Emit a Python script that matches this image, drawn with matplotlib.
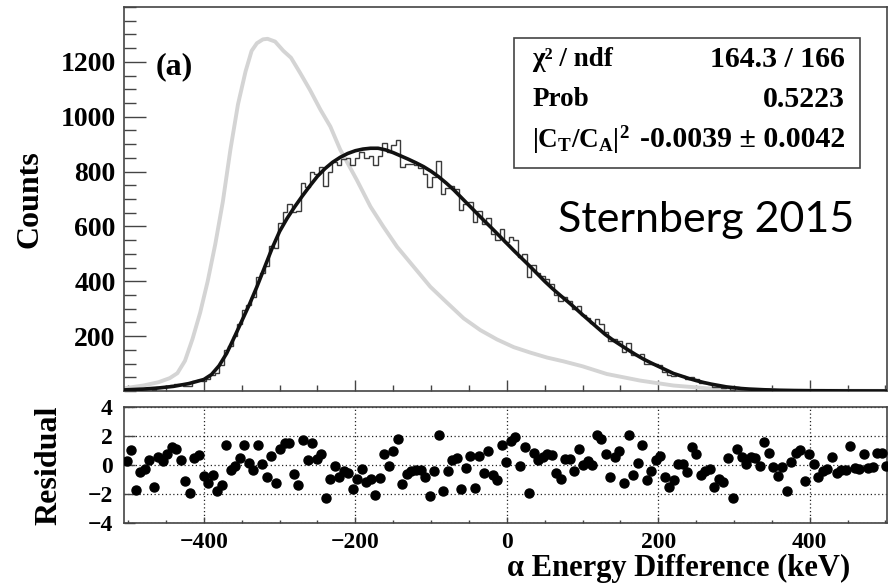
import numpy as np
import matplotlib
matplotlib.use("Agg")
import matplotlib.pyplot as plt
from matplotlib.ticker import MultipleLocator
from matplotlib.patches import Rectangle

# ---------------- data ----------------
# fitted curve (black)
fit_x = [-505, -480, -460, -440, -420,
         -400, -390, -380, -370, -360, -350, -340, -330, -320, -310,
         -300, -290, -280, -270, -260, -250, -240, -230, -220, -210,
         -200, -190, -180, -170, -160, -150, -140, -130, -120, -110,
         -100, -90, -80, -70, -60, -50, -40, -30, -20, -10,
         0, 10, 20, 30, 40, 50, 60, 70, 80, 90,
         100, 110, 120, 130, 140, 150, 160, 170, 180, 190,
         200, 210, 220, 230, 240, 250, 260, 270, 280, 290,
         300, 310, 320, 340, 360, 380, 400, 450, 503]
fit_y = [4, 7, 11, 17, 27,
         42, 60, 92, 137, 195, 255, 315, 380, 450, 520,
         582, 630, 672, 711, 748, 783, 811, 834, 852, 866,
         876, 882, 885, 885, 879, 869, 857, 845, 832, 818,
         801, 781, 758, 733, 705, 677, 649, 621, 594, 566,
         538, 510, 483, 456, 428, 400, 374, 350, 327, 303,
         278, 254, 230, 206, 186, 168, 150, 133, 117, 103,
         90, 77, 64, 55, 46, 38, 31, 25, 20, 15,
         12, 9, 7, 4.5, 2.5, 1.5, 1, 0.4, 0.2]

# comparison spectrum (light grey)
sim_x = [-505, -480, -460, -445, -435, -425, -415, -405, -395, -385,
         -375, -365, -355, -345, -337, -330, -322, -316, -306, -295,
         -285, -273, -260, -246, -233, -220, -198, -180, -163, -145,
         -123, -101, -79, -57, -35, -13, 9, 31, 53, 75,
         100, 132, 176, 220, 264, 300, 350, 400, 450, 503]
sim_y = [10, 20, 32, 47, 65, 110, 190, 285, 400, 535,
         690, 880, 1045, 1165, 1240, 1268, 1282, 1284, 1274, 1240,
         1215, 1160, 1098, 1025, 964, 880, 769, 672, 599, 526,
         453, 380, 322, 265, 222, 188, 160, 140, 122, 108,
         90, 62, 38, 20, 10, 6, 3, 1.5, 1, 0.5]

# measured histogram counts (169 bins)
counts = [
    5, 7, 2, 5, 7, 10, 5, 13, 14, 17, 21, 24, 24, 19, 18, 35, 41, 37, 43, 59,
    67, 93, 150, 164, 201, 246, 297, 312, 343, 415, 431, 454, 528, 521, 613, 653,
    681, 651, 655, 760, 745, 800, 790, 818, 749, 798, 836, 825, 847, 850, 823, 848,
    873, 848, 856, 824, 857, 903, 873, 898, 914, 816, 829, 828, 823, 814, 790, 743,
    781, 839, 718, 741, 748, 735, 661, 683, 689, 615, 655, 608, 630, 573, 549, 589,
    544, 560, 549, 489, 501, 417, 458, 431, 418, 407, 390, 351, 329, 341, 327, 298,
    309, 276, 265, 247, 264, 245, 215, 181, 188, 183, 144, 174, 131, 130, 134, 100,
    98, 98, 93, 71, 59, 56, 59, 53, 44, 51, 42, 30, 28, 25, 16, 16, 12, 16,
    5, 14, 11, 8, 8, 7, 5, 8, 6, 3, 2, 2, 0, 2, 2, 2, 0, 2, 1, 0,
    0, 0, 1, 0, 0, 0, 1, 0, 0, 1, 0, 0, 1, 1, 0]

# residuals (data - fit) / sigma, one per bin
residuals = [
    0.3, 1.0, -1.7, -0.46, -0.28, 0.35, -1.5, 0.57, 0.25, 0.76,
    1.26, 1.1, 0.37, -1.08, -1.9, 0.48, 0.71, -0.74, -1.26, -0.67,
    -1.8, -1.4, 1.38, -0.32, -0.1, 0.48, 1.4, 0.11, -0.32, 1.38,
    0.07, -0.8, 0.64, -1.26, 1.1, 1.5, 1.54, -0.62, -1.38, 1.72,
    0.34, 1.52, 0.41, 0.76,
    -2.23, -0.97, -0.09, -0.85, -0.39, -0.57, -1.66, -0.99, -0.28, -1.2,
    -0.99, -2.05, -0.9, 0.76, -0.05, 0.99, 1.79, -1.31, -0.62, -0.39,
    -0.32, -0.32, -0.85, -2.16, -0.44, 2.07, -1.77, -0.44, 0.34, 0.48,
    -1.66, -0.23, 0.64, -1.59, 0.64, -0.57, 0.99, -0.67, -1.01, 1.38,
    0.18, 1.63,
    1.91, -0.05, 1.26, -1.89, 0.8, 0.34, 0.53, 0.76, 0.71, -0.57,
    -0.97, 0.41, 0.41, -0.39, 1.1, 0.0, 0.25, 0.0, 2.07, 1.79,
    0.76, -0.8, 0.53, 0.99, -1.24, 2.07, -0.67, 0.11, 1.38, -1.01,
    -0.44, 0.34, 0.64, -0.85, -1.49, -1.01, 0.07, 0.07, -0.5, 1.22,
    0.76, -0.67,
    -0.39, -0.28, -1.49, -0.97, -1.2, 0.46, -2.23, 1.1, 0.53, 0.07,
    0.53, 0.48, -0.05, 1.56, 0.8, -0.16, -0.74, -0.16, -1.77, 0.18,
    0.8, 1.03, -1.13, 0.76, 0.07, -0.8, -0.39, -0.28, 0.53, -0.57,
    -0.34, -0.34, 1.29, -0.23, -0.28, 0.76, -0.23, -0.16, 0.8, 0.8,
    -0.09]

hist_lo, hist_hi = -505, 504
x_ticks = [-400, -200, 0, 200, 400]
y_ticks = [200, 400, 600, 800, 1000, 1200]
res_ticks = [-4, -2, 0, 2, 4]
stats_labels = ["χ² / ndf", "Prob", r"$|\mathrm{C}_{\mathrm{T}}/\mathrm{C}_{\mathrm{A}}|^{2}$"]
stats_values = ["164.3 / 166", "0.5223", "-0.0039 ± 0.0042"]

# ---------------- style ----------------
plt.rcParams['font.family'] = ['Liberation Serif', 'DejaVu Serif']
plt.rcParams['font.weight'] = 'bold'
plt.rcParams['mathtext.fontset'] = 'custom'
plt.rcParams['mathtext.rm'] = 'Liberation Serif:bold'
plt.rcParams['mathtext.it'] = 'Liberation Serif:bold'
plt.rcParams['mathtext.bf'] = 'Liberation Serif:bold'

W, H = 889, 585
fig = plt.figure(figsize=(W / 100, H / 100), dpi=100)
ax = fig.add_axes([124 / W, 1 - 391 / H, 763 / W, 384 / H])
axr = fig.add_axes([124 / W, 1 - 523.3 / H, 763 / W, 116.6 / H])

nb = len(counts)
edges = np.linspace(hist_lo, hist_hi, nb + 1)
centers = 0.5 * (edges[1:] + edges[:-1])

spine_c = '#444444'
for a in (ax, axr):
    for s in a.spines.values():
        s.set_color(spine_c)
        s.set_linewidth(1.2)
    a.set_xlim(-505.5, 502)

ax.plot(sim_x, sim_y, color='#d4d4d4', lw=2.8, zorder=2)
ax.stairs(counts, edges, color='#3a3a3a', lw=1.0, zorder=3)
ax.plot(fit_x, fit_y, color='#111111', lw=2.6, zorder=4)
ax.set_ylim(0, 1400)
ax.set_yticks(y_ticks)
ax.yaxis.set_minor_locator(MultipleLocator(50))
ax.set_xticks(x_ticks)
ax.xaxis.set_minor_locator(MultipleLocator(50))
ax.tick_params(axis='y', which='major', direction='in', length=16, width=1.0,
               color=spine_c, labelsize=20, pad=6)
ax.tick_params(axis='y', which='minor', direction='in', length=8.5, width=1.0, color=spine_c)
ax.tick_params(axis='x', which='major', direction='in', length=8, width=1.0,
               color=spine_c, labelbottom=False)
ax.tick_params(axis='x', which='minor', direction='in', length=4, width=1.0, color=spine_c)

ax.text(0.041, 0.844, '(a)', transform=ax.transAxes, fontsize=23, va='center', ha='left')

ax.add_patch(Rectangle((0.511, 0.581), 0.4536, 0.338, transform=ax.transAxes,
                       fc='white', ec=spine_c, lw=1.2, zorder=5))
rows = [0.862, 0.758, 0.654]
for lab, val, yy in zip(stats_labels, stats_values, rows):
    ax.text(0.535, yy, lab, transform=ax.transAxes, fontsize=19.5, va='center', ha='left', zorder=6)
    ax.text(0.945, yy, val, transform=ax.transAxes, fontsize=21.5, va='center', ha='right', zorder=6)

# residual panel
axr.plot(centers, residuals, 'o', color='black', ms=6.5, zorder=3, clip_on=True)
axr.set_ylim(-4, 4)
axr.set_yticks(res_ticks)
axr.set_xticks(x_ticks)
axr.xaxis.set_minor_locator(MultipleLocator(50))
axr.grid(True, which='major', ls=(0, (1, 2)), color='#222222', lw=0.9)
axr.tick_params(axis='y', which='major', direction='in', length=8, width=1.0,
                color=spine_c, labelsize=17, pad=8)
axr.tick_params(axis='x', which='major', direction='in', length=4, width=1.0,
                color=spine_c, labelsize=17, pad=6)
axr.tick_params(axis='x', which='minor', direction='in', length=2.5, width=1.0, color=spine_c)

fig.text(30 / W, 1 - 199 / H, 'Counts', rotation=90, ha='center', va='center', fontsize=23)
fig.text(49 / W, 1 - 465 / H, 'Residual', rotation=90, ha='center', va='center', fontsize=23)
fig.text(850 / W, 1 - 568 / H, 'α Energy Difference (keV)', ha='right', va='center', fontsize=22)
fig.text(706 / W, 1 - 232 / H, 'Sternberg 2015', family=['Lato', 'DejaVu Sans'], weight='normal',
         fontsize=31, ha='center', va='baseline')

fig.savefig('out.png', dpi=100)
